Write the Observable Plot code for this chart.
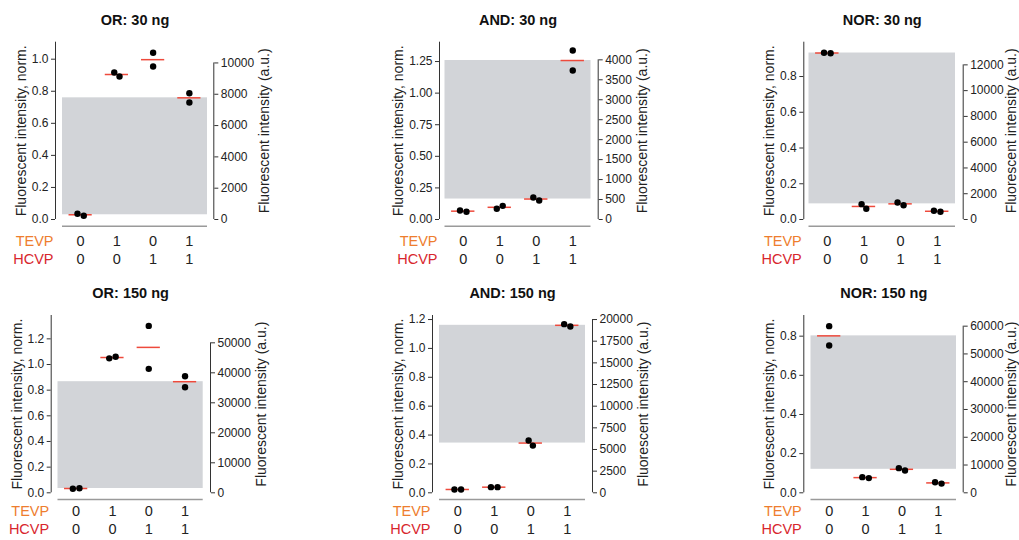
<!DOCTYPE html>
<html><head><meta charset="utf-8">
<script src="https://cdn.jsdelivr.net/npm/d3@7"></script>
<script src="https://cdn.jsdelivr.net/npm/@observablehq/plot@0.6"></script>
<style>
body{margin:0;background:#fff;}
#chart{position:relative;width:1019px;height:540px;}
#chart svg{position:absolute;left:0;top:0;}
</style></head><body><div id="chart"></div>
<script>
// ---- data ----
const titles = ["OR: 30 ng", "AND: 30 ng", "NOR: 30 ng", "OR: 150 ng", "AND: 150 ng", "NOR: 150 ng"];
const gates = ["OR", "AND", "NOR", "OR", "AND", "NOR"];
const TEVP = [0, 1, 0, 1];
const HCVP = [0, 0, 1, 1];
const truth = {OR: [0, 1, 1, 1], AND: [0, 0, 0, 1], NOR: [1, 0, 0, 0]};
// replicate values (normalized), [rep1, rep2] per input combination
const or30   = [[0.036, 0.023], [0.917, 0.892], [1.040, 0.954], [0.788, 0.730]];
const and30  = [[0.071, 0.061], [0.085, 0.108], [0.174, 0.150], [1.337, 1.179]];
const nor30  = [[0.933, 0.930], [0.086, 0.060], [0.095, 0.080], [0.049, 0.043]];
const or150  = [[0.031, 0.036], [1.048, 1.061], [1.301, 0.966], [0.909, 0.823]];
const and150 = [[0.023, 0.023], [0.039, 0.039], [0.362, 0.327], [1.168, 1.152]];
const nor150 = [[0.851, 0.752], [0.080, 0.075], [0.126, 0.114], [0.054, 0.047]];
const values = [or30, and30, nor30, or150, and150, nor150];
// axes
const normDomainMax = [1.106, 1.403, 0.992, 1.382, 1.228, 0.9055];
const normTickMax = [1.0, 1.25, 0.8, 1.2, 1.2, 0.8];
const normTickStep = [0.2, 0.25, 0.2, 0.2, 0.2, 0.2];
const normTickDecimals = [1, 2, 1, 1, 1, 1];
const auPerNorm = [10240, 3166, 13870, 42770, 16667, 70500];
const auTickMax = [10000, 4000, 12000, 50000, 20000, 60000];
const auTickStep = [2000, 500, 2000, 10000, 2500, 10000];

// ---- layout (pixels) ----
const W = 1019, H = 540;
const layout = [
  {L: 55,    R: 213.3, xa: 62,    xb: 207,   top: 41.7, y0: 219},
  {L: 439,   R: 597.7, xa: 444.5, xb: 590.5, top: 41.7, y0: 219},
  {L: 803.3, R: 962.7, xa: 808.5, xb: 955,   top: 41.7, y0: 219},
  {L: 50.7,  R: 210,   xa: 57.5,  xb: 202.7, top: 315,  y0: 492.3},
  {L: 432,   R: 592,   xa: 439,   xb: 585,   top: 315,  y0: 492.3},
  {L: 803.3, R: 962.7, xa: 810.5, xb: 956,   top: 315,  y0: 492.3}
];
const rowDy = [[26, 44.3], [23.4, 41.3]];
const FONT = "'Liberation Sans', Arial, Helvetica, sans-serif";
const C_TEVP = "#ee7d2e", C_HCVP = "#d8262d", C_MEAN = "#ee4a3c", C_RECT = "#d2d4d8";

function textWidth(s) { // approx width at 12px
  let w = 0; for (const ch of s) w += (ch === "." ? 3.34 : 6.67); return w;
}

function panel(i) {
  const lay = layout[i], vals = values[i], gate = gates[i];
  const ymax = normDomainMax[i];
  const k = (lay.y0 - lay.top) / ymax;
  const pxPerX = (lay.xb - lay.xa) / 4;
  const D = 6.6;
  const dots = [], means = [];
  vals.forEach((reps, c) => {
    const [a, b] = reps;
    const dy = Math.abs(a - b) * k;
    const off = dy < D ? Math.sqrt(D * D - dy * dy) / 2 / pxPerX : 0;
    dots.push({x: c - off, y: a}, {x: c + off, y: b});
    means.push({c, m: (a + b) / 2, on: truth[gate][c]});
  });
  const offMax = d3.max(means.filter(d => !d.on), d => d.m);
  const onMin = d3.min(means.filter(d => d.on), d => d.m);
  const xOf = px => -0.5 + 4 * (px - lay.xa) / (lay.xb - lay.xa);

  const dec = normTickDecimals[i];
  const leftTicks = d3.range(0, normTickMax[i] + 1e-9, normTickStep[i]);
  const f = auPerNorm[i], st = auTickStep[i];
  const auTicks = d3.range(0, auTickMax[i] + 1e-9, st);
  const leftW = d3.max(leftTicks, t => textWidth(t.toFixed(dec)));
  const rightW = d3.max(auTicks, t => textWidth(String(t)));
  const leftLabelX = xOf(lay.L - (4 + 3 + leftW + 4 + 6.5));
  const rightLabelX = xOf(Math.min(W - 8, lay.R + (4 + 3 + rightW + 4 + 6.5)));
  const rd = rowDy[i < 3 ? 0 : 1];
  const cats = [0, 1, 2, 3];

  return Plot.plot({
    width: W, height: H,
    marginLeft: lay.L, marginRight: W - lay.R, marginTop: lay.top, marginBottom: H - lay.y0,
    x: {domain: [-0.5, 3.5], range: [lay.xa, lay.xb], axis: null},
    y: {domain: [0, ymax], axis: null},
    style: {background: "transparent", fontFamily: FONT, fontSize: "12px", color: "#222", overflow: "visible"},
    marks: [
      Plot.rect([{x1: -0.5, x2: 3.5, y1: offMax, y2: onMin}], {x1: "x1", x2: "x2", y1: "y1", y2: "y2", fill: C_RECT}),
      Plot.ruleY(means, {y: "m", x1: d => d.c - 0.32, x2: d => d.c + 0.32, stroke: C_MEAN, strokeWidth: 1.5}),
      Plot.dot(dots, {x: "x", y: "y", r: 3.2, fill: "#000", stroke: "none"}),
      Plot.ruleY([0], {x1: -0.5, x2: 3.5, dy: 6.7, stroke: "#9a9a9a", strokeWidth: 1.6}),
      // left axis
      Plot.ruleX([xOf(lay.L)], {y1: 0, y2: ymax, stroke: "#333", strokeWidth: 1}),
      Plot.axisY({anchor: "left", ticks: leftTicks, tickFormat: d => d.toFixed(dec), tickSize: 4, tickPadding: 3, label: null, fontSize: 12, stroke: "#333"}),
      // right axis
      Plot.ruleX([xOf(lay.R)], {y1: 0, y2: auTickMax[i] / f, stroke: "#333", strokeWidth: 1}),
      Plot.axisY({anchor: "right", ticks: auTicks.map(v => v / f), tickFormat: d => String(Math.round(d * f / st) * st), tickSize: 4, tickPadding: 3, label: null, fontSize: 12, stroke: "#333"}),
      // axis titles
      Plot.text(["Fluorescent intensity, norm."], {x: leftLabelX, y: ymax / 2, text: d => d, rotate: -90, textAnchor: "middle", lineAnchor: "middle", fontSize: 14, fill: "#222"}),
      Plot.text(["Fluorescent intensity (a.u.)"], {x: rightLabelX, y: ymax / 2, text: d => d, rotate: -90, textAnchor: "middle", lineAnchor: "middle", fontSize: 14, fill: "#222"}),
      // title
      Plot.text([titles[i]], {x: 1.5, frameAnchor: "top", dy: -17.5, text: d => d, lineAnchor: "bottom", fontWeight: "bold", fontSize: 14.5, fill: "#111"}),
      // input rows
      Plot.text(["TEVP"], {x: xOf(lay.L - 2), frameAnchor: "bottom", dy: rd[0], text: d => d, textAnchor: "end", lineAnchor: "bottom", fontSize: 14.5, fill: C_TEVP}),
      Plot.text(["HCVP"], {x: xOf(lay.L - 2), frameAnchor: "bottom", dy: rd[1], text: d => d, textAnchor: "end", lineAnchor: "bottom", fontSize: 14.5, fill: C_HCVP}),
      Plot.text(cats, {x: d => d, frameAnchor: "bottom", dy: rd[0], text: d => String(TEVP[d]), lineAnchor: "bottom", fontSize: 14.5, fill: "#222"}),
      Plot.text(cats, {x: d => d, frameAnchor: "bottom", dy: rd[1], text: d => String(HCVP[d]), lineAnchor: "bottom", fontSize: 14.5, fill: "#222"})
    ]
  });
}

const root = document.getElementById("chart");
for (let i = 0; i < 6; i++) root.appendChild(panel(i));
</script></body></html>
